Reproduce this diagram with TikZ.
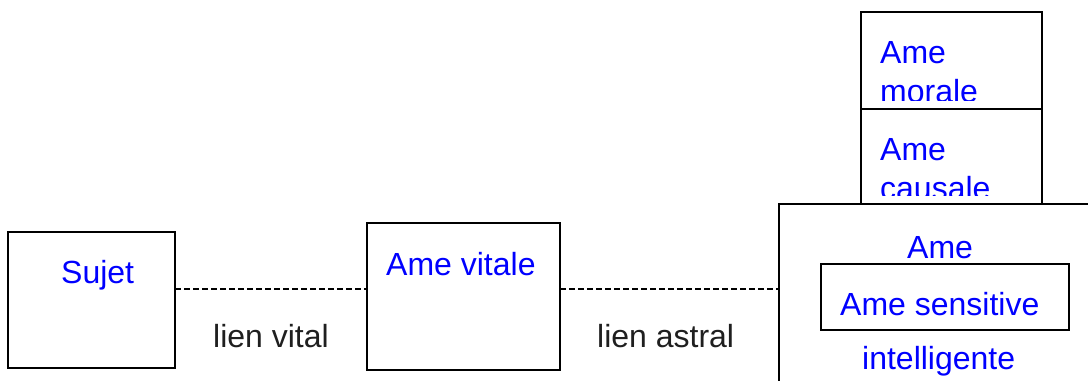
\documentclass[tikz,border=0pt]{standalone}
\usepackage{fontspec}
\setmainfont{Liberation Sans}
\begin{document}
\begin{tikzpicture}[x=1pt,y=-1pt,
  boxline/.style={draw=black,line width=1.6pt},
  bx/.style={boxline,rectangle,inner sep=0pt,outer sep=0pt,anchor=north west},
  bluetxt/.style={text=blue,font=\fontsize{32}{38}\selectfont,inner sep=0pt,anchor=base west},
  blacktxt/.style={text=black!88,font=\fontsize{32}{38}\selectfont,inner sep=0pt,anchor=base west},
  link/.style={draw=black,line width=1.4pt,dash pattern=on 6pt off 3pt}]
\useasboundingbox (0,0) rectangle (1088,381);
% boxes
\node[bx,minimum width=167pt,minimum height=136pt] (sujet) at (8,232) {};
\node[bx,minimum width=193pt,minimum height=147pt] (vitale) at (367,223) {};
\node[bx,minimum width=181pt,minimum height=97pt] (morale) at (861,12) {};
\node[bx,minimum width=181pt,minimum height=95pt] (causale) at (861,109) {};
\node[bx,minimum width=248pt,minimum height=66pt] (sensitive) at (821,264) {};
\coordinate (bigtl) at (779,204);
\coordinate (bigin) at (779,289);
\draw[boxline] (1088,204) -- (bigtl) -- (779,381);
% texts
\node[bluetxt] (tsujet) at (61,283) {Sujet};
\node[bluetxt] (tvitale) at (386,275) {Ame vitale};
\node[blacktxt] (lvital) at (213,347) {lien vital};
\node[blacktxt] (lastral) at (597,347) {lien astral};
\node[bluetxt] (tm1) at (880,63) {Ame};
\begin{scope}
\clip (861,12) rectangle (1042,100);
\node[bluetxt] (tm2) at (880,102) {morale};
\end{scope}
\node[bluetxt] (tc1) at (880,160) {Ame};
\begin{scope}
\clip (861,109) rectangle (1042,195);
\node[bluetxt] (tc2) at (880,199) {causale};
\end{scope}
\node[bluetxt] (ti1) at (907,258) {Ame};
\node[bluetxt] (ts) at (840,315) {Ame sensitive};
\node[bluetxt] (ti2) at (862,369) {intelligente};
% connectors
\draw[link] (sujet.east |- bigin) -- (vitale.west |- bigin);
\draw[link] (vitale.east |- bigin) -- (bigin);
\end{tikzpicture}
\end{document}
